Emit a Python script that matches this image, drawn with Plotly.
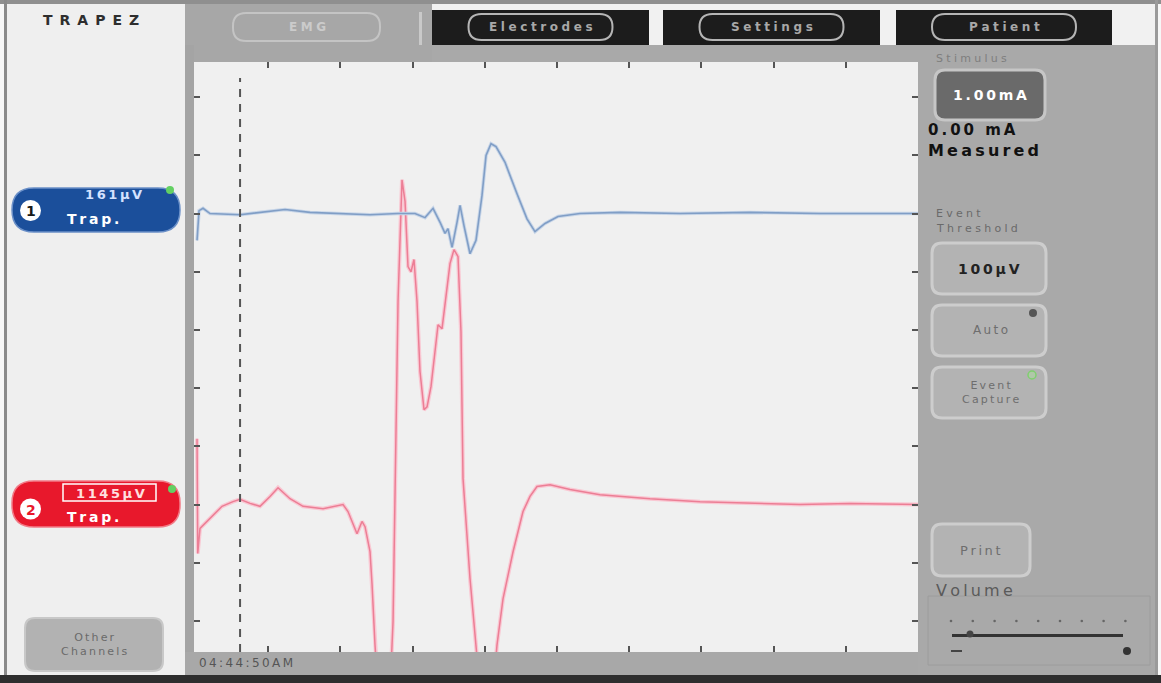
import plotly.graph_objects as go

# ---------------- data ----------------
# time axis in ms (10 ms / division), amplitude in divisions relative to each channel's baseline
ch1_t = [0.14, 0.42, 0.97, 1.94, 6.09, 9.14, 12.33, 15.79, 19.94, 24.1, 27.98, 30.33, 31.72, 32.83,
         33.80, 34.49, 34.90, 35.46, 36.15, 36.57, 37.12, 37.95, 38.78, 39.61, 40.17, 40.86, 41.55,
         42.80, 44.46, 45.84, 46.95, 48.34, 50.14, 53.19, 58.73, 67.04, 76.73, 86.43, 100.0]
ch1_div = [-0.46, 0.05, 0.09, 0.0, -0.02, 0.03, 0.07, 0.02, 0.0, -0.02, 0.0, 0.0, -0.07, 0.09,
           -0.15, -0.34, -0.26, -0.58, -0.15, 0.14, -0.21, -0.69, -0.46, 0.31, 1.00, 1.20, 1.15,
           0.88, 0.34, -0.09, -0.31, -0.17, -0.05, 0.0, 0.02, 0.0, 0.02, 0.0, 0.0]

ch2_t = [0.14, 0.24, 0.55, 1.94, 3.60, 5.12, 6.09, 7.48, 8.86, 10.25, 11.36, 13.02, 14.82, 17.59,
         20.36, 21.05, 22.30, 22.99, 23.41, 24.10, 24.38, 24.79, 25.21, 26.18, 26.87, 27.29, 27.56,
         27.98, 28.53, 28.95, 29.36, 29.78, 30.19, 30.61, 31.02, 31.58, 32.00, 32.55, 33.10, 33.52,
         34.07, 34.63, 35.18, 35.73, 36.29, 36.70, 36.98, 37.95, 38.64, 39.34, 40.44, 41.27, 41.69,
         42.52, 43.91, 45.29, 46.26, 47.23, 49.03, 51.80, 55.96, 62.88, 69.81, 76.73, 83.66, 90.58, 100.0]
ch2_div = [1.13, -0.84, -0.41, -0.24, -0.03, 0.05, 0.09, 0.02, -0.03, 0.14, 0.29, 0.10, -0.03, -0.07,
           0.0, -0.12, -0.50, -0.29, -0.38, -0.81, -1.37, -2.41, -3.21, -3.38, -3.21, -2.01, 0.40,
           3.49, 5.58, 5.21, 4.09, 4.00, 4.21, 3.49, 2.29, 1.63, 1.68, 2.03, 2.63, 3.09,
           3.02, 3.57, 4.14, 4.38, 4.26, 2.97, 0.45, -1.27, -2.30, -3.21, -3.38, -3.04, -2.41,
           -1.62, -0.81, -0.12, 0.14, 0.31, 0.34, 0.26, 0.17, 0.10, 0.05, 0.03, 0.0, 0.02, 0.0]

cursor_ms = 6.1
x_ticks_ms = [10, 20, 30, 40, 50, 60, 70, 80, 90]
y_ticks_div = [1, 2, 3, 4, 5, 6, 7, 8, 9, 10]
ch1_sens = "161µV"
ch2_sens = "1145µV"
ch_name = "Trap."
stim_set = "1.00mA"
stim_meas = "0.00 mA"
threshold = "100µV"
timestamp = "04:44:50AM"
tabs = ["EMG", "Electrodes", "Settings", "Patient"]

# ---------------- layout helpers ----------------
W, H = 1161, 683
CH1_BASE, CH2_BASE = 8, 3
FONT = "DejaVu Sans"
SP = "\u2009"
SP2 = "\u2009\u200a"


def X(px):
    return px / W


def Y(py):
    return 1 - py / H


shapes = []
annos = []


def rect(x0, y0, x1, y1, fill=None, line=None, lw=0):
    shapes.append(dict(type="rect", xref="paper", yref="paper", x0=X(x0), x1=X(x1), y0=Y(y1), y1=Y(y0),
                       fillcolor=fill if fill else "rgba(0,0,0,0)",
                       line=dict(color=line if line else "rgba(0,0,0,0)", width=lw), layer="below"))


def rrect(x0, y0, x1, y1, r, fill=None, line=None, lw=0):
    p = (f"M{X(x0+r)},{Y(y0)} L{X(x1-r)},{Y(y0)} Q{X(x1)},{Y(y0)} {X(x1)},{Y(y0+r)} "
         f"L{X(x1)},{Y(y1-r)} Q{X(x1)},{Y(y1)} {X(x1-r)},{Y(y1)} L{X(x0+r)},{Y(y1)} "
         f"Q{X(x0)},{Y(y1)} {X(x0)},{Y(y1-r)} L{X(x0)},{Y(y0+r)} Q{X(x0)},{Y(y0)} {X(x0+r)},{Y(y0)} Z")
    shapes.append(dict(type="path", xref="paper", yref="paper", path=p,
                       fillcolor=fill if fill else "rgba(0,0,0,0)",
                       line=dict(color=line if line else "rgba(0,0,0,0)", width=lw), layer="below"))


def circ(cx, cy, r, fill, line=None, lw=0):
    shapes.append(dict(type="circle", xref="paper", yref="paper", x0=X(cx-r), x1=X(cx+r), y0=Y(cy+r), y1=Y(cy-r),
                       fillcolor=fill, line=dict(color=line if line else "rgba(0,0,0,0)", width=lw),
                       layer="below"))


def text(px, py, s, size, color, anchor="center", bold=False, family=FONT):
    annos.append(dict(xref="paper", yref="paper", x=X(px), y=Y(py), text=(f"<b>{s}</b>" if bold else s),
                      showarrow=False, xanchor=anchor, yanchor="middle",
                      font=dict(size=size, color=color, family=family)))


def spaced(s, sep=SP):
    return sep.join(s)


# ---------------- frame ----------------
rect(0, 0, W, 4, "#8f8f8f")
rect(4, 0, 7, H, "#8a8a8a")
rect(7, 4, 185, 675, "#efefef")
rect(185, 4, 432, 62, "#a7a7a7")
rect(432, 4, 1156, 45, "#f1f1f1")
rect(432, 45, 918, 62, "#a9a9a9")
rect(918, 45, 1155, 675, "#a9a9a9")
rect(185, 45, 194, 675, "#a4a4a4")
rect(185, 652, 918, 675, "#a8a8a8")
rect(0, 675, W, H, "#2e2e2e")
rect(1155, 0, 1158, 675, "#9a9a9a")

# tabs
rrect(233, 13, 380, 41, 13, None, "#c4c4c4", 2)
rect(419, 12, 422, 45, "#c9c9c9")
text(307, 27, spaced(tabs[0], SP2), 12, "#cbcbcb", bold=True)
for (bx0, bx1), label in zip([(432, 649), (663, 880), (896, 1112)], tabs[1:]):
    rect(bx0, 10, bx1, 45, "#1c1c1c")
    cx = (bx0 + bx1) / 2
    rrect(cx - 72, 14, cx + 72, 40, 13, None, "#b5b5b5", 2)
    text(cx, 27, spaced(label, SP2), 12, "#a8a8a8", bold=True)

# left panel
text(91, 20, spaced("TRAPEZ", "\u2002"), 14, "#2e2e2e", bold=True)
rrect(12, 188, 180, 232, 22, "#1b4f9b", "#6b90c8", 1.5)
circ(30.5, 210.5, 10.5, "#ffffff")
circ(170, 190, 4, "#63d063")
text(30.5, 211, "1", 14, "#1a1a1a", bold=True)
text(113, 194, spaced(ch1_sens), 13, "#d4e2ff", bold=True)
text(93, 219, spaced(ch_name), 14, "#ffffff", bold=True)

rrect(12, 481, 180, 527, 22, "#e8182c", "#f27a86", 1.5)
circ(30.5, 509, 10.5, "#ffffff")
circ(172, 489, 4, "#63d063")
rect(63, 484, 156, 501, None, "#ffffff", 1.5)
text(30.5, 509.5, "2", 14, "#e8182c", bold=True)
text(110, 493, spaced(ch2_sens), 13, "#ffe0e0", bold=True)
text(93, 517, spaced(ch_name), 14, "#ffffff", bold=True)

rrect(25, 618, 163, 671, 10, "#b2b2b2", "#c8c8c8", 2)
text(94, 644, spaced("Other") + "<br>" + spaced("Channels"), 11, "#6a6a6a")

text(197, 663, spaced(timestamp), 12, "#555555", anchor="left")

# right panel
text(934, 58, spaced("Stimulus", SP2), 11, "#7e7e7e", anchor="left")
rrect(935, 70, 1045, 120, 10, "#6a6a6a", "#c6c6c6", 3)
text(990, 95, spaced(stim_set), 14, "#ffffff", bold=True)
text(926, 130, spaced(stim_meas), 15, "#111111", anchor="left", bold=True)
text(926, 151, spaced("Measured"), 16, "#111111", anchor="left", bold=True)
text(934, 213, spaced("Event", SP2), 11, "#6a6a6a", anchor="left")
text(934, 228, spaced("Threshold", SP2), 11, "#6a6a6a", anchor="left")
rrect(932, 243, 1046, 294, 10, "#b3b3b3", "#cdcdcd", 3)
text(989, 269, spaced(threshold), 14, "#222222", bold=True)
rrect(932, 305, 1046, 356, 10, "#b3b3b3", "#cdcdcd", 3)
circ(1033, 313, 4, "#555555")
text(990, 330, spaced("Auto"), 12, "#6e6e6e")
rrect(932, 367, 1046, 418, 10, "#b3b3b3", "#cdcdcd", 3)
circ(1032, 375, 4, "#b0c8a8", "#7fcf6f", 1.5)
text(990, 392, spaced("Event") + "<br>" + spaced("Capture"), 11, "#6e6e6e")
rrect(932, 524, 1030, 576, 10, "#b3b3b3", "#cdcdcd", 3)
text(981, 550, spaced("Print"), 13, "#6e6e6e")
text(934, 590, spaced("Volume"), 16, "#5a5a5a", anchor="left")
rect(928, 596, 1150, 665, None, "#9c9c9c", 1)
for i in range(9):
    circ(951 + i * 21.8, 621, 1.3, "#666666")
rect(952, 634, 1123, 637, "#333333")
circ(970, 634, 3.5, "#444444")
rect(951, 650, 962, 652, "#444444")
circ(1127, 651, 4, "#333333")

# cursor
shapes.append(dict(type="line", xref="x", yref="paper", x0=cursor_ms, x1=cursor_ms, y0=Y(652), y1=Y(78),
                   line=dict(color="#555555", width=2, dash="8px,7px"), layer="above"))

# ---------------- traces ----------------
fig = go.Figure()
ch2_y = [CH2_BASE + v for v in ch2_div]
ch1_y = [CH1_BASE + v for v in ch1_div]
fig.add_trace(go.Scatter(x=ch2_t, y=ch2_y, mode="lines", line=dict(color="#f9c8d3", width=4), hoverinfo="skip"))
fig.add_trace(go.Scatter(x=ch2_t, y=ch2_y, mode="lines", line=dict(color="#ec7e95", width=1.5), hoverinfo="skip"))
fig.add_trace(go.Scatter(x=ch1_t, y=ch1_y, mode="lines", line=dict(color="#c8d6e8", width=3.5), hoverinfo="skip"))
fig.add_trace(go.Scatter(x=ch1_t, y=ch1_y, mode="lines", line=dict(color="#809ec6", width=1.6), hoverinfo="skip"))

axis_common = dict(showgrid=False, zeroline=False, showline=False, ticks="inside", ticklen=6, tickwidth=2,
                   tickcolor="#555555", showticklabels=False, mirror="ticks", fixedrange=True)
fig.update_layout(
    width=W, height=H, margin=dict(l=0, r=0, t=0, b=0),
    paper_bgcolor="#f7f7f7", plot_bgcolor="#f0f0f0", showlegend=False,
    xaxis=dict(domain=[X(194), X(918)], range=[-0.28, 100], tickvals=x_ticks_ms, **axis_common),
    yaxis=dict(domain=[Y(652), Y(62)], range=[0.467, 10.604], tickvals=y_ticks_div, **axis_common),
    shapes=shapes, annotations=annos,
)
fig.write_html("out.html", config={"displayModeBar": False})
